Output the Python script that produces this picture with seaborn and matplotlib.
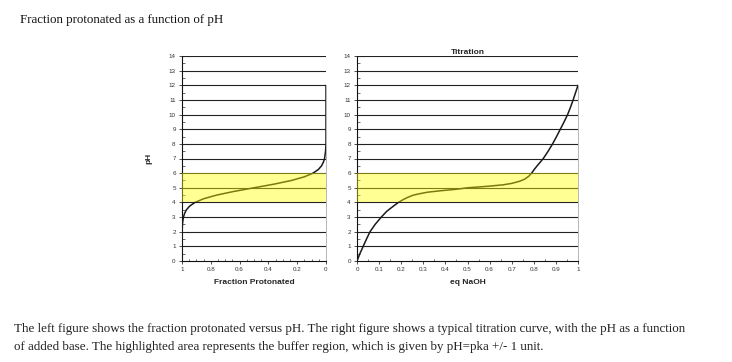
import numpy as np
import pandas as pd
import matplotlib
matplotlib.use("Agg")
import matplotlib.pyplot as plt
import seaborn as sns
from matplotlib.ticker import MultipleLocator

# ---- data ----
left_ph = [0, 1, 2, 2.5, 2.75, 3, 3.25, 3.5, 3.75, 4, 4.25, 4.5, 4.75, 5, 5.25, 5.5, 5.75,
           6, 6.25, 6.5, 6.75, 7, 7.5, 8, 12]
left_frac = [1.0, 1.0, 0.999, 0.997, 0.994, 0.99, 0.982, 0.969, 0.947, 0.91, 0.85, 0.76, 0.64,
             0.5, 0.36, 0.24, 0.15, 0.09, 0.053, 0.031, 0.018, 0.01, 0.003, 0.0, 0.0]

right_eq = [0, 0.013, 0.028, 0.043, 0.059, 0.082, 0.11, 0.135, 0.165, 0.187, 0.21, 0.23, 0.255,
            0.285, 0.32, 0.38, 0.45, 0.5, 0.59, 0.66, 0.7, 0.737, 0.76, 0.778, 0.79, 0.802,
            0.815, 0.843, 0.865, 0.885, 0.903, 0.92, 0.937, 0.953, 0.966, 0.978, 0.989, 1.0]
right_ph = [0, 0.5, 1, 1.5, 2, 2.5, 3, 3.4, 3.75, 4, 4.2, 4.35, 4.5,
            4.6, 4.7, 4.8, 4.9, 5, 5.1, 5.2, 5.3, 5.45, 5.6, 5.8, 6, 6.25,
            6.5, 7, 7.5, 8, 8.5, 9, 9.5, 10, 10.5, 11, 11.5, 12]

yticks = list(range(0, 15))
left_xticks = [1, 0.8, 0.6, 0.4, 0.2, 0]
left_xlabels = ["1", "0.8", "0.6", "0.4", "0.2", "0"]
right_xticks = [0, 0.1, 0.2, 0.3, 0.4, 0.5, 0.6, 0.7, 0.8, 0.9, 1]
right_xlabels = ["0", "0.1", "0.2", "0.3", "0.4", "0.5", "0.6", "0.7", "0.8", "0.9", "1"]
buffer_lo, buffer_hi = 4, 6

title_text = "Fraction protonated as a function of pH"
caption_1 = ("The left figure shows the fraction protonated versus pH. The right figure shows a typical "
             "titration curve, with the pH as a function")
caption_2 = "of added base. The highlighted area represents the buffer region, which is given by pH=pka +/- 1 unit."

df_left = pd.DataFrame({"pH": left_ph, "frac": left_frac})
df_right = pd.DataFrame({"eq": right_eq, "pH": right_ph})

sns.set_style("white")
plt.rcParams["font.family"] = ["Liberation Sans", "DejaVu Sans"]

fig = plt.figure(figsize=(7.32, 3.62), dpi=100)
axL = fig.add_axes([182 / 732, 101 / 362, 144 / 732, 205 / 362])
axR = fig.add_axes([357 / 732, 101 / 362, 221 / 732, 205 / 362])

tick_fs = 4.5
lab_fs = 6

def style(ax):
    ax.set_ylim(0, 14)
    ax.set_yticks(yticks)
    ax.set_yticklabels([str(v) for v in yticks], fontsize=tick_fs, color="#333333")
    ax.yaxis.set_minor_locator(MultipleLocator(0.5))
    ax.xaxis.set_minor_locator(MultipleLocator(0.05))
    ax.grid(False)
    for v in yticks[1:]:
        ax.axhline(v, color="#222222", lw=0.8, zorder=1)
    ax.axhspan(buffer_lo, buffer_hi, color="#FFFF00", alpha=0.42, lw=0, zorder=5)
    ax.spines["top"].set_visible(False)
    ax.spines["right"].set_color("#aaaaaa")
    ax.spines["right"].set_linewidth(0.6)
    ax.spines["right"].set_bounds(0, 12)
    for s in ("left", "bottom"):
        ax.spines[s].set_color("#111111")
        ax.spines[s].set_linewidth(0.8)
    ax.tick_params(axis="both", which="major", direction="out", length=2, width=0.6,
                   pad=2.5, colors="#333333", left=True, bottom=True)
    ax.tick_params(axis="both", which="minor", direction="in", length=1.8, width=0.5,
                   left=True, bottom=True, colors="#333333")
    ax.set_facecolor("white")

line_kw = dict(sort=False, estimator=None, color="#1a1a1a", lw=1.1, zorder=3)

# left plot
sns.lineplot(data=df_left, x="frac", y="pH", ax=axL, **line_kw)
axL.set_xlim(1, 0)
axL.set_xticks(left_xticks)
axL.set_xticklabels(left_xlabels, fontsize=tick_fs, color="#333333")
style(axL)
axL.set_xlabel("Fraction Protonated", fontsize=lab_fs, fontweight="bold", labelpad=5)
axL.set_ylabel("pH", fontsize=lab_fs, fontweight="bold", labelpad=12)

# right plot
sns.lineplot(data=df_right, x="eq", y="pH", ax=axR, **line_kw)
axR.set_xlim(0, 1)
axR.set_xticks(right_xticks)
axR.set_xticklabels(right_xlabels, fontsize=tick_fs, color="#333333")
style(axR)
axR.set_xlabel("eq NaOH", fontsize=lab_fs, fontweight="bold", labelpad=5)
axR.set_ylabel("")
axR.set_title("Titration", fontsize=lab_fs, fontweight="bold", pad=1.5)

for ax in (axL, axR):
    for ln in ax.get_lines():
        ln.set_solid_joinstyle("round")
        ln.set_solid_capstyle("round")

serif = ["Liberation Serif", "DejaVu Serif"]
fig.text(20 / 732, 1 - 20 / 362, title_text, fontsize=9.3, family=serif, va="center", ha="left", color="#111111")
fig.text(14 / 732, 1 - 329 / 362, caption_1, fontsize=9.4, family=serif, va="center", ha="left", color="#222222")
fig.text(14 / 732, 1 - 347 / 362, caption_2, fontsize=9.4, family=serif, va="center", ha="left", color="#222222")

fig.savefig("out.png", dpi=100, facecolor="white")
